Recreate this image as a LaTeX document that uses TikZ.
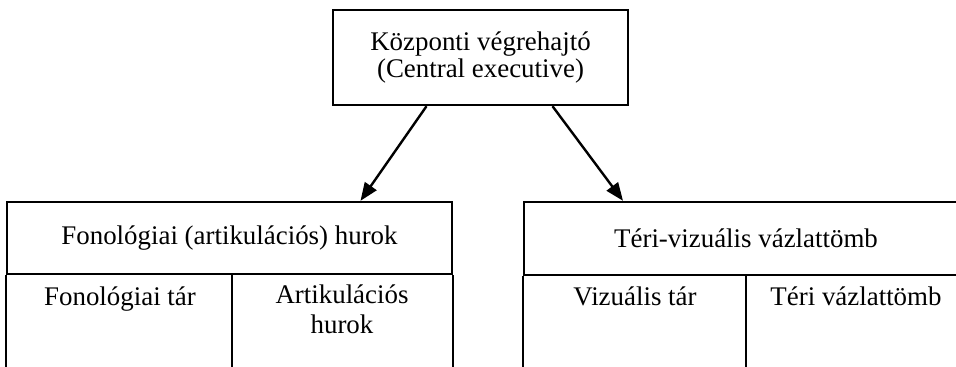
\documentclass[tikz,border=0pt]{standalone}
\usepackage{fontspec}
\setmainfont{Liberation Serif}
\usetikzlibrary{arrows.meta}
\tikzset{
  box/.style={draw,line width=2.4bp,inner sep=0pt},
  wall/.style={line width=2.4bp},
  link/.style={-{Triangle[length=18bp,width=14bp]},line width=2.4bp}
}

\begin{document}
\begin{tikzpicture}[x=1bp,y=-1bp,font=\fontsize{27}{27}\selectfont]

    % -- Canvas (the lower boxes run off the bottom and right edge) --
    \useasboundingbox (0,0) rectangle (956,366);
    \clip (0,0) rectangle (956,366);

    % Define the division points
    \def\ybot{366}   % bottom edge, lower boxes stay open
    \def\hcell{92}   % height of the lower cells

    % -- Top box --
    \node[box,minimum width=295bp,minimum height=95bp,align=center] (central) at (480.5,57.5)
      {Központi végrehajtó\\(Central executive)};

    % -- Header boxes of the two subsystems --
    \node[box,minimum width=445bp,minimum height=72bp] (phon) at (229.5,238)
      {Fonológiai (artikulációs) hurok};
    \node[box,minimum width=444bp,minimum height=73bp] (visu) at (746,238.5)
      {Téri-vizuális vázlattömb};

    % -- Open cells below the headers --
    \draw[wall] (phon.south west) -- ++(0,\hcell);
    \draw[wall] ([xshift=2.5bp]phon.south) -- ++(0,\hcell);
    \draw[wall] (phon.south east) -- ++(0,\hcell);
    \draw[wall] (visu.south west) -- ++(0,\hcell);
    \draw[wall] (visu.south) -- ++(0,\hcell);
    \draw[wall] (visu.south east) -- ++(0,\hcell);

    % -- Cell labels --
    \node[anchor=base] (phonstore) at (120,305) {Fonológiai tár};
    \node[anchor=base,align=center] (artloop) at (342,333) {Artikulációs\\[3bp]hurok};
    \node[anchor=base] (visstore) at (635,305) {Vizuális tár};
    \node[anchor=base] (sketch) at (856,305) {Téri vázlattömb};

    % -- Arrows from the central executive --
    \draw[link] ([xshift=-54bp]central.south) -- ([xshift=131bp]phon.north);
    \draw[link] ([xshift=72bp]central.south) -- ([xshift=-123bp]visu.north);

\end{tikzpicture}
\end{document}
